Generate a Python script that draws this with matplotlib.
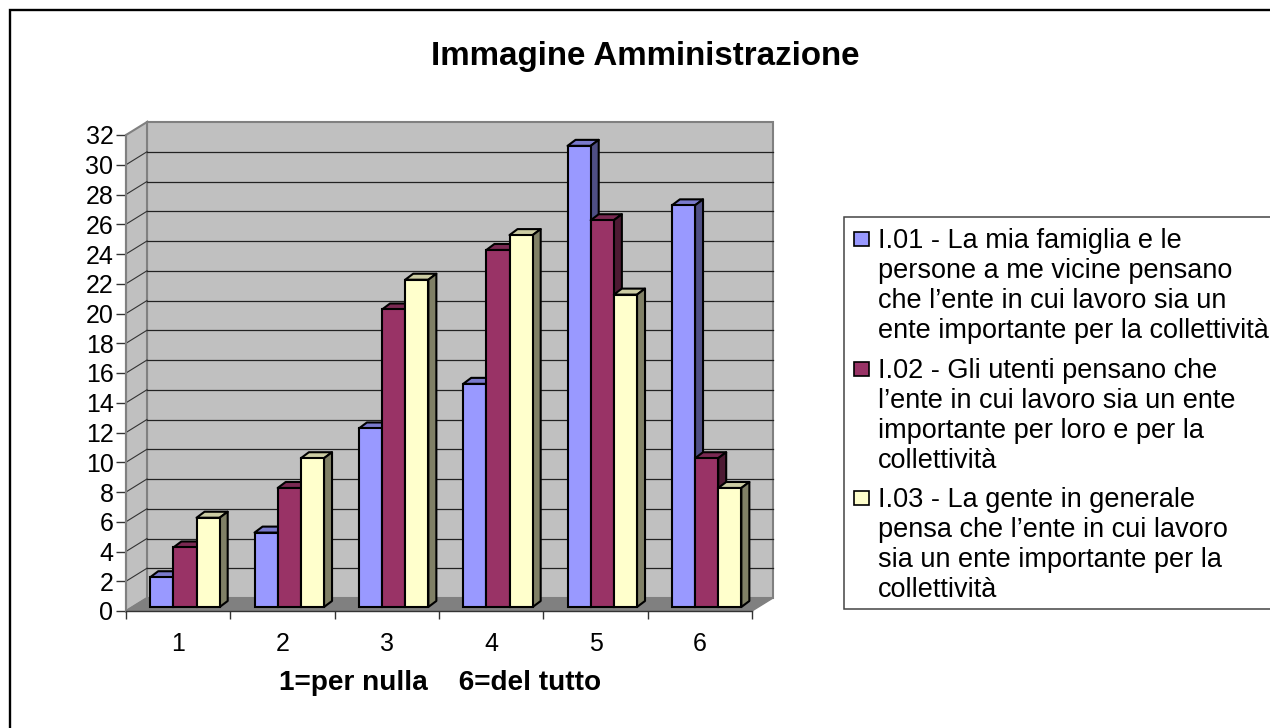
import numpy as np
import matplotlib
matplotlib.use('Agg')
import matplotlib.pyplot as plt
from matplotlib.patches import Rectangle

plt.rcParams['font.family'] = ['Liberation Sans', 'DejaVu Sans']

categories = ['1', '2', '3', '4', '5', '6']
i01 = [2, 5, 12, 15, 31, 27]
i02 = [4, 8, 20, 24, 26, 10]
i03 = [6, 10, 22, 25, 21, 8]
series = [i01, i02, i03]
yticks = list(range(0, 33, 2))

# face, top, side
colors = [('#9999ff', '#7a7acc', '#4f4f85'),
          ('#993366', '#7a2952', '#4d1a33'),
          ('#ffffcc', '#cccca3', '#808066')]

legend_text = [
    'I.01 - La mia famiglia e le\npersone a me vicine pensano\nche l\u2019ente in cui lavoro sia un\nente importante per la collettivit\u00e0',
    'I.02 - Gli utenti pensano che\nl\u2019ente in cui lavoro sia un ente\nimportante per loro e per la\ncollettivit\u00e0',
    'I.03 - La gente in generale\npensa che l\u2019ente in cui lavoro\nsia un ente importante per la\ncollettivit\u00e0',
]

W, H = 1270, 728
fig = plt.figure(figsize=(W / 100, H / 100), dpi=100, facecolor='white')

# only top and left of the frame are inside the picture
bg = fig.add_axes([0, 0, 1, 1])
bg.set_xlim(0, W)
bg.set_ylim(H, 0)
bg.axis('off')
bg.add_patch(Rectangle((10, 10), W + 20, H + 20, fc='white', ec='black', lw=1.7))

# axes sits on the front plane of the fake 3d box
left, right, y0, y32 = 126, 752, 611, 135
ax = fig.add_axes([left / W, 1 - y0 / H, (right - left) / W, (y0 - y32) / H])
ax.set_xlim(0, 6)
ax.set_ylim(0, 32)
ax.patch.set_alpha(0)

dx = 21 / ((right - left) / 6)
dy = 13 / ((y0 - y32) / 32)
wall = '#c0c0c0'
wall_edge = '#808080'

# back wall, side wall, floor
ax.fill([dx, 6 + dx, 6 + dx, dx], [dy, dy, 32 + dy, 32 + dy], fc=wall, ec=wall_edge, lw=1.5, clip_on=False, zorder=1)
ax.fill([0, dx, dx, 0], [0, dy, 32 + dy, 32], fc=wall, ec=wall_edge, lw=1.5, clip_on=False, zorder=1)
ax.fill([0, dx, 6 + dx, 6], [0, dy, dy, 0], fc='#808080', ec=wall_edge, lw=1, clip_on=False, zorder=1)

for v in yticks[1:-1]:
    ax.plot([dx, 6 + dx], [v + dy, v + dy], color='#222222', lw=0.9, clip_on=False, zorder=2)
    ax.plot([0, dx], [v, v + dy], color='#333333', lw=0.8, clip_on=False, zorder=2)

# bars
bar_w = 0.222
start = 0.232
base = 0.27
ox = 8 / ((right - left) / 6)
oy = 6 / ((y0 - y32) / 32)
for i in range(len(categories)):
    for s, vals in enumerate(series):
        v = vals[i]
        x = i + start + s * bar_w
        face, top, side = colors[s]
        z = 3 + i + s * 0.1
        ax.fill([x, x + ox, x + bar_w + ox, x + bar_w], [base + v, base + v + oy, base + v + oy, base + v],
                fc=top, ec='black', lw=1.5, clip_on=False, zorder=z, joinstyle='round')
        ax.fill([x + bar_w, x + bar_w + ox, x + bar_w + ox, x + bar_w], [base, base + oy, base + v + oy, base + v],
                fc=side, ec='black', lw=1.5, clip_on=False, zorder=z, joinstyle='round')
        ax.bar(x, v, bar_w, bottom=base, align='edge', color=face, edgecolor='black', lw=1.5, clip_on=False, zorder=z + 0.01)

for name in ['top', 'right']:
    ax.spines[name].set_visible(False)
ax.spines['left'].set_color('#808080')
ax.spines['left'].set_linewidth(1.5)
ax.spines['bottom'].set_color('#333333')
ax.spines['bottom'].set_linewidth(1.0)
ax.spines['bottom'].set_zorder(20)

ax.set_yticks(yticks)
ax.set_xticks(range(7))
ax.set_xticklabels([])
ax.set_xticks(np.arange(6) + 0.5, labels=categories, minor=True)
ax.tick_params(axis='x', which='major', length=6, width=1.0, color='#333333')
ax.tick_params(axis='x', which='minor', length=0, pad=15, labelsize=18)
ax.tick_params(axis='y', length=7, width=1.0, color='#333333', pad=2, labelsize=18)

bg.text(440, 690, '1=per nulla    6=del tutto', ha='center', va='baseline', fontsize=20.2, fontweight='bold')
bg.text(645, 65, 'Immagine Amministrazione', ha='center', va='baseline', fontsize=23.9, fontweight='bold')

# legend
bg.add_patch(Rectangle((844, 217), W, 392, fc='white', ec='#444444', lw=1.1))
ys = [248, 378, 507]
for s, txt in enumerate(legend_text):
    bg.add_patch(Rectangle((854, ys[s] - 16), 15, 14, fc=colors[s][0], ec='black', lw=1.2))
    for j, line in enumerate(txt.split('\n')):
        bg.text(878, ys[s] + j * 30, line, ha='left', va='baseline', fontsize=19.5)

fig.savefig('out.png', dpi=100)
